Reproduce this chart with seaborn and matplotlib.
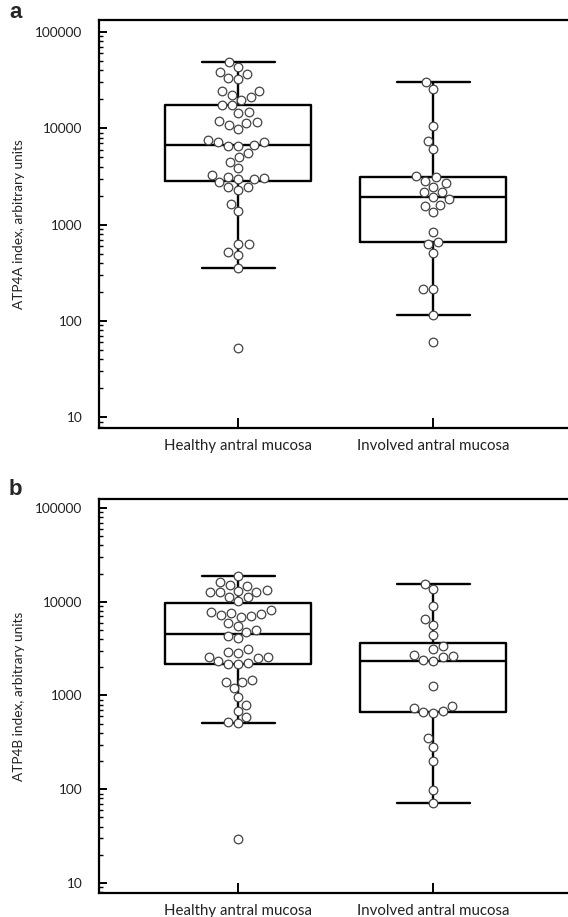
import numpy as np
import pandas as pd
import matplotlib
matplotlib.use("Agg")
import matplotlib.pyplot as plt
import seaborn as sns
from matplotlib.ticker import LogLocator, NullFormatter

categories = ["Healthy antral mucosa", "Involved antral mucosa"]

atp4a_healthy = [48800, 43300, 38400, 36600, 33300, 32500, 24400, 24400, 22200, 21100,
                 19700, 17400, 17400, 14800, 14400, 11900, 11600, 11400, 10800, 9800,
                 7550, 7200, 7200, 6700, 6550, 6550, 5530, 5030, 4460, 3860,
                 3270, 3120, 3050, 2980, 2980, 2770, 2460, 2460, 2290, 1630,
                 1380, 627, 627, 518, 482, 353, 53]
atp4a_involved = [30000, 25400, 10500, 7430, 6040, 3190, 3090, 2850, 2720, 2470,
                  2190, 2190, 1940, 1830, 1600, 1560, 1340, 841, 662, 627,
                  514, 217, 217, 115, 60.5]

atp4b_healthy = [18820, 16360, 15090, 14720, 13350, 13120, 12800, 12800, 12800, 11160,
                 11160, 10260, 8170, 7780, 7640, 7400, 7220, 7050, 6930, 5980,
                 5510, 4995, 4790, 4310, 4080, 3110, 2930, 2820, 2590, 2555,
                 2495, 2350, 2240, 2170, 2150, 1463, 1404, 1404, 1211, 971,
                 792, 688, 594, 525, 505, 29.2]
atp4b_involved = [15460, 13580, 9080, 6600, 5650, 4420, 3400, 3130, 2700, 2640,
                  2590, 2390, 2330, 1263, 773, 741, 688, 672, 646, 350,
                  284, 200, 98, 70.8]

ytick_values = [10, 100, 1000, 10000, 100000]
ytick_labels = ["10", "100", "1000", "10000", "100000"]
ylabels = ["ATP4A index, arbitrary units", "ATP4B index, arbitrary units"]
panel_letters = ["a", "b"]

sns.set_theme(style="ticks")
plt.rcParams["font.family"] = ["Lato", "DejaVu Sans"]

fig = plt.figure(figsize=(5.68, 9.17), dpi=100)
ax_a = fig.add_axes([99 / 568, 1 - 428.3 / 917, 1 - 99 / 568, (428.3 - 20) / 917])
ax_b = fig.add_axes([99 / 568, 1 - 893 / 917, 1 - 99 / 568, (893 - 499.3) / 917])

text_color = "#222222"


def draw_panel(ax, healthy, involved, ylim, ylabel):
    df = pd.DataFrame({
        "group": [categories[0]] * len(healthy) + [categories[1]] * len(involved),
        "value": list(healthy) + list(involved),
    })
    sns.boxplot(data=df, x="group", y="value", order=categories, log_scale=True,
                width=0.75, fill=False, color="black", linewidth=1.7,
                showfliers=False, whis=1.5, ax=ax, zorder=2)
    sns.swarmplot(data=df, x="group", y="value", order=categories, log_scale=True,
                  size=6.2, color="white", edgecolor="#444444", linewidth=0.9,
                  ax=ax, zorder=3)
    ax.set_xlim(-0.714, 1.691)
    ax.set_ylim(*ylim)
    ax.set_yticks(ytick_values, labels=ytick_labels)
    ax.yaxis.set_minor_locator(LogLocator(base=10, subs=range(2, 10)))
    ax.yaxis.set_minor_formatter(NullFormatter())
    ax.tick_params(axis="y", which="major", direction="in", length=6, width=1.4,
                   labelsize=9.8, pad=12, color="black", labelcolor=text_color)
    ax.tick_params(axis="y", which="minor", direction="in", length=3, width=1.0,
                   color="black")
    ax.tick_params(axis="x", which="major", direction="in", length=7, width=1.4,
                   labelsize=10.8, pad=8, color="black", labelcolor=text_color)
    ax.set_xlabel("")
    ax.set_ylabel(ylabel, fontsize=9.8, labelpad=7, color=text_color)
    for side in ["left", "top", "bottom"]:
        ax.spines[side].set_visible(True)
        ax.spines[side].set_linewidth(1.6)
        ax.spines[side].set_color("black")
    ax.spines["right"].set_visible(False)


draw_panel(ax_a, atp4a_healthy, atp4a_involved, (10 ** 0.886, 10 ** 5.125), ylabels[0])
draw_panel(ax_b, atp4b_healthy, atp4b_involved, (10 ** 0.893, 10 ** 5.093), ylabels[1])

fig.text(9 / 568, 1 - 2 / 917, panel_letters[0], ha="left", va="top",
         fontsize=16, fontweight="bold", family="Liberation Sans")
fig.text(9 / 568, 1 - 479 / 917, panel_letters[1], ha="left", va="top",
         fontsize=16, fontweight="bold", family="Liberation Sans")

fig.savefig("out.png", dpi=100)
